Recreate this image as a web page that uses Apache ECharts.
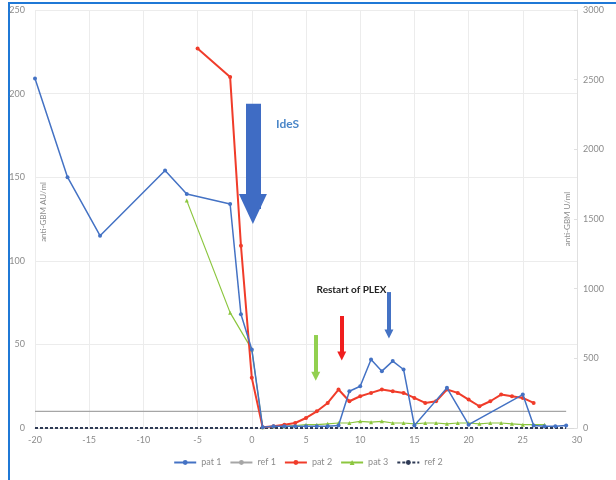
<!DOCTYPE html>
<html>
<head>
<meta charset="utf-8">
<script src="https://cdn.jsdelivr.net/npm/echarts@6/dist/echarts.min.js"></script>
<style>
  html, body { margin: 0; padding: 0; background: #fff; }
  #chart { width: 616px; height: 480px; }
</style>
</head>
<body>
<div id="chart"></div>
<script>
// Days relative to IdeS treatment, anti-GBM levels
const pat1Days = [-20, -17, -14, -8, -6, -2, -1, 0, 1, 2, 3, 4, 5, 6, 7, 8, 9, 10, 11, 12, 13, 14, 15, 18, 20, 25, 26, 27, 28, 29];
const pat1Vals = [209, 150, 115, 154, 140, 134, 68, 47, 0.5, 1, 1, 1, 1, 1, 1, 1.5, 22, 25, 41, 34, 40, 35, 1.5, 24, 2, 20, 1.5, 1, 1, 1.5];

const pat2Days = [-5, -2, -1, 0, 1, 2, 3, 4, 5, 6, 7, 8, 9, 10, 11, 12, 13, 14, 15, 16, 17, 18, 19, 20, 21, 22, 23, 24, 25, 26];
const pat2Vals = [227, 210, 109, 30, 0.5, 1, 2, 3, 6, 10, 15, 23, 16, 19, 21, 23, 22, 21, 18, 15, 16, 23, 21, 17, 13, 16, 20, 19, 18, 15];

const pat3Days = [-6, -2, 0, 1, 2, 3, 4, 5, 6, 7, 8, 9, 10, 11, 12, 13, 14, 15, 16, 17, 18, 19, 20, 21, 22, 23, 24, 25, 26, 27];
const pat3Vals = [136, 69, 47, 0.5, 1, 1, 1.5, 2, 2, 2.5, 3, 3, 4, 3.5, 4, 3, 3, 2.5, 3, 3, 2.5, 3, 3, 2.5, 3, 3, 2.5, 2, 2, 2];

const refDays = [-20, 29];
const ref1Vals = [10, 10];
const ref2Vals = [0, 0];

const xTicks = { min: -20, max: 30, step: 5 };
const yLeftTicks = { min: 0, max: 250, step: 50 };
const yRightTicks = { min: 0, max: 3000, step: 500 };

const leftAxisTitle = 'anti-GBM AU/ml';
const rightAxisTitle = 'anti-GBM U/ml';

// Annotation arrows: [day, startValue, endValue]
const idesArrow = [0.1, 194, 131];
const plexArrows = [
  { day: 5.9, from: 55.6, to: 31, color: '#92D050' },
  { day: 8.3, from: 67, to: 43, color: '#F01E1E' },
  { day: 12.65, from: 81.3, to: 56.2, color: '#4472C4' }
];

const zip = (xs, ys) => xs.map((x, i) => [x, ys[i]]);

const font = 'Lato, "Open Sans", sans-serif';
const grey = '#8c8c8c';

const chart = echarts.init(document.getElementById('chart'), null, { renderer: 'canvas' });

const arrowLines = [
  [
    { coord: [idesArrow[0], idesArrow[1]], symbol: 'none',
      lineStyle: { color: '#3F6CC4', width: 15, type: 'solid' } },
    { coord: [idesArrow[0], idesArrow[2]], symbol: 'triangle', symbolSize: [28, 30] }
  ]
].concat(plexArrows.map(a => [
  { coord: [a.day, a.from], symbol: 'none', lineStyle: { color: a.color, width: 4, type: 'solid' } },
  { coord: [a.day, a.to], symbol: 'triangle', symbolSize: [9, 9] }
]));

// Rotated axis titles sitting just inside the plot frame
const axisTitle = (text, x, y) => ({
  type: 'text',
  x: x, y: y,
  rotation: Math.PI / 2,
  silent: true,
  style: {
    text: text, fill: grey, font: '8px ' + font,
    textAlign: 'center', textVerticalAlign: 'middle'
  }
});

chart.setOption({
  animation: false,
  textStyle: { fontFamily: font },
  graphic: [{
    type: 'rect',
    shape: { x: 9, y: 3, width: 640, height: 500 },
    style: { fill: 'none', stroke: '#1F78D6', lineWidth: 2 },
    silent: true
  },
  axisTitle(leftAxisTitle, 43, 212),
  axisTitle(rightAxisTitle, 567, 219)
  ],
  grid: { left: 35, right: 39, top: 10, bottom: 52, containLabel: false, outerBoundsMode: 'none' },
  legend: {
    bottom: 8,
    left: 'center',
    itemWidth: 22,
    itemHeight: 6,
    itemGap: 8,
    textStyle: { color: grey, fontSize: 9, fontFamily: font },
    data: ['pat 1', 'ref 1', 'pat 2', 'pat 3', 'ref 2']
  },
  xAxis: {
    type: 'value',
    min: xTicks.min, max: xTicks.max, interval: xTicks.step,
    axisLine: { show: true, lineStyle: { color: '#d9d9d9' } },
    axisTick: { show: false },
    axisLabel: { color: grey, fontSize: 9, margin: 8 },
    splitLine: { show: true, lineStyle: { color: '#ececec' } }
  },
  yAxis: [{
    type: 'value',
    min: yLeftTicks.min, max: yLeftTicks.max, interval: yLeftTicks.step,
    axisLine: { show: false },
    axisTick: { show: false },
    axisLabel: { color: grey, fontSize: 9, margin: 10 },
    splitLine: { show: true, lineStyle: { color: '#ececec' } }
  }, {
    type: 'value',
    position: 'right',
    min: yRightTicks.min, max: yRightTicks.max, interval: yRightTicks.step,
    axisLine: { show: true, lineStyle: { color: '#e0e0e0' } },
    axisTick: { show: true, length: 3, inside: true, lineStyle: { color: '#e0e0e0' } },
    axisLabel: { color: grey, fontSize: 9, margin: 6, formatter: v => String(v) },
    splitLine: { show: false }
  }],
  series: [{
    name: 'pat 1',
    type: 'line',
    data: zip(pat1Days, pat1Vals),
    color: '#4472C4',
    lineStyle: { width: 1.5 },
    symbol: 'circle',
    symbolSize: 4,
    z: 5,
    markLine: {
      silent: true,
      animation: false,
      label: { show: false },
      data: arrowLines
    },
    markPoint: {
      silent: true,
      symbol: 'circle',
      symbolSize: 1,
      itemStyle: { color: 'rgba(0,0,0,0)' },
      data: [{
        coord: [3.3, 182],
        label: { show: true, formatter: 'IdeS', color: '#4A86C8', fontSize: 12, fontWeight: 'bold', fontFamily: font }
      }, {
        coord: [9.2, 82.5],
        label: { show: true, formatter: 'Restart of PLEX', color: '#222', fontSize: 10, fontWeight: 'bold', fontFamily: font }
      }]
    }
  }, {
    name: 'ref 1',
    type: 'line',
    data: zip(refDays, ref1Vals),
    color: '#A6A6A6',
    lineStyle: { width: 1.2 },
    symbol: 'none',
    z: 2
  }, {
    name: 'pat 2',
    type: 'line',
    data: zip(pat2Days, pat2Vals),
    color: '#F03C2A',
    lineStyle: { width: 2 },
    symbol: 'circle',
    symbolSize: 4,
    z: 4
  }, {
    name: 'pat 3',
    type: 'line',
    data: zip(pat3Days, pat3Vals),
    color: '#8CC63F',
    lineStyle: { width: 1.2 },
    symbol: 'triangle',
    symbolSize: 4,
    z: 3
  }, {
    name: 'ref 2',
    type: 'line',
    data: zip(refDays, ref2Vals),
    color: '#2E3A55',
    lineStyle: { width: 1.8, type: [3, 2] },
    symbol: 'none',
    z: 3
  }]
});
</script>
</body>
</html>
